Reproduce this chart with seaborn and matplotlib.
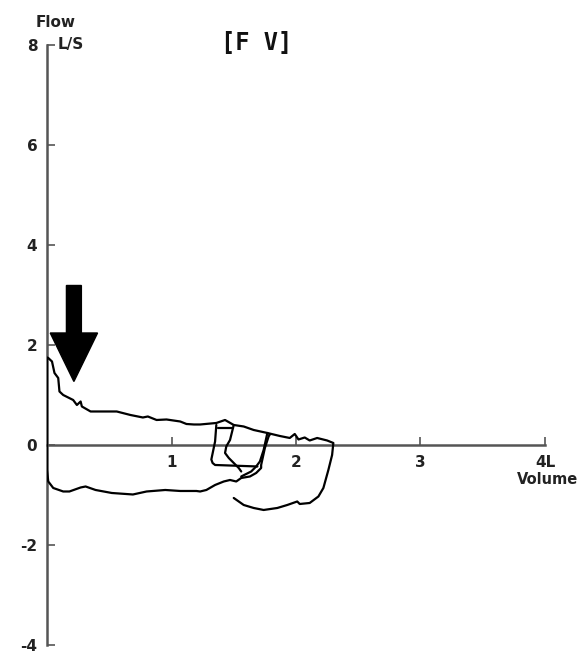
import matplotlib.pyplot as plt
import numpy as np
import seaborn as sns

# flow-volume loop, volume in L, flow in L/S
main_vol = [1.79, 1.78, 1.75, 1.72, 1.72, 1.68, 1.63, 1.56, 1.52, 1.47, 1.42, 1.35,
            1.28, 1.23, 1.20, 1.07, 0.95, 0.80, 0.69, 0.52, 0.39, 0.31, 0.27, 0.18,
            0.13, 0.05, 0.01, 0.00,
            0.00, 0.01, 0.04, 0.06, 0.09, 0.10, 0.13, 0.21, 0.24, 0.27, 0.28, 0.35,
            0.56, 0.67, 0.77, 0.81, 0.88, 0.96, 1.07, 1.12, 1.18, 1.23, 1.36, 1.43,
            1.50, 1.58, 1.66, 1.77, 1.87, 1.95, 1.99, 2.02, 2.07, 2.11, 2.17, 2.25,
            2.30,
            2.29, 2.26, 2.22, 2.18, 2.11, 2.03, 2.01, 1.93, 1.85, 1.74, 1.66, 1.58,
            1.50]
main_flow = [0.21, 0.17, -0.06, -0.40, -0.46, -0.56, -0.63, -0.66, -0.73, -0.70, -0.73, -0.80,
             -0.90, -0.93, -0.92, -0.92, -0.90, -0.93, -0.99, -0.96, -0.90, -0.83, -0.85, -0.93,
             -0.93, -0.86, -0.73, -0.50,
             1.75, 1.74, 1.67, 1.44, 1.34, 1.07, 1.00, 0.90, 0.80, 0.87, 0.77, 0.67,
             0.67, 0.60, 0.55, 0.57, 0.50, 0.51, 0.47, 0.42, 0.41, 0.41, 0.44, 0.50,
             0.40, 0.37, 0.30, 0.24, 0.18, 0.14, 0.22, 0.11, 0.15, 0.09, 0.14, 0.09,
             0.04,
             -0.20, -0.50, -0.86, -1.03, -1.16, -1.18, -1.13, -1.20, -1.26, -1.30, -1.26, -1.20,
             -1.06]

# small tidal loops near end-expiration
loop1_vol = [1.36, 1.35, 1.32, 1.33, 1.35, 1.69]
loop1_flow = [0.40, 0.07, -0.29, -0.36, -0.40, -0.43]
loop1_top_vol = [1.37, 1.49]
loop1_top_flow = [0.34, 0.34]
loop2_vol = [1.50, 1.47, 1.44, 1.43, 1.46, 1.50, 1.54, 1.56]
loop2_flow = [0.40, 0.10, -0.03, -0.16, -0.26, -0.36, -0.46, -0.53]
loop3_vol = [1.77, 1.74, 1.71, 1.68, 1.64, 1.56]
loop3_flow = [0.24, -0.10, -0.33, -0.43, -0.53, -0.63]

y_ticks = [8, 6, 4, 2, 0, -2, -4]
x_ticks = [1, 2, 3, 4]
x_tick_labels = ["1", "2", "3", "4L"]

sns.set_theme(style="white")
plt.rcParams["axes.unicode_minus"] = False
plt.rcParams["font.family"] = ["DejaVu Sans"]
plt.rcParams["xtick.direction"] = "in"
plt.rcParams["ytick.direction"] = "in"
plt.rcParams["xtick.bottom"] = True
plt.rcParams["ytick.left"] = True

fig = plt.figure(figsize=(5.84, 6.55), dpi=100)
ax = fig.add_axes([0.0805, 0.0153, 0.8527, 0.916])

axis_col = "#555555"
for side in ["top", "right"]:
    ax.spines[side].set_visible(False)
ax.spines["bottom"].set_position(("data", 0))
ax.spines["left"].set_position(("data", 0))
for side in ["bottom", "left"]:
    ax.spines[side].set_color(axis_col)
    ax.spines[side].set_linewidth(1.8)

segments = [(main_vol, main_flow), (loop1_vol, loop1_flow),
            (loop1_top_vol, loop1_top_flow), (loop2_vol, loop2_flow),
            (loop3_vol, loop3_flow)]
for xs, ys in segments:
    sns.lineplot(x=xs, y=ys, sort=False, estimator=None, color="black",
                 linewidth=1.6, ax=ax, zorder=3)

ax.set_xlim(0, 4)
ax.set_ylim(-4, 8)
ax.set_xlabel("")
ax.set_ylabel("")
ax.set_yticks(y_ticks)
ax.set_xticks(x_ticks)
ax.set_xticklabels(x_tick_labels)
ax.tick_params(axis="both", which="major", direction="in", length=6, width=1.2,
               color=axis_col, labelsize=11, pad=7, left=True, bottom=True)
for lbl in ax.get_xticklabels() + ax.get_yticklabels():
    lbl.set_fontweight("bold")
    lbl.set_color("#222222")

# big down arrow marking the early peak
tip_x, tip_y = 0.216, 1.27
head_w, head_h = 0.19, 0.97
shaft_w, shaft_top = 0.06, 3.19
arrow_x = np.array([tip_x, tip_x - head_w, tip_x - shaft_w, tip_x - shaft_w,
                    tip_x + shaft_w, tip_x + shaft_w, tip_x + head_w])
arrow_y = np.array([tip_y, tip_y + head_h, tip_y + head_h, shaft_top,
                    shaft_top, tip_y + head_h, tip_y + head_h])
ax.fill(arrow_x, arrow_y, color="black", zorder=4)

ax.annotate("L/S", xy=(0, 8), xytext=(8, 0), textcoords="offset points",
            ha="left", va="center", fontsize=11, fontweight="bold", color="#222222")
ax.annotate("Flow", xy=(0, 8), xytext=(6, 16), textcoords="offset points",
            ha="center", va="center", fontsize=11, fontweight="bold", color="#222222")
ax.annotate("Volume", xy=(4, 0), xytext=(2, -25), textcoords="offset points",
            ha="center", va="center", fontsize=10.5, fontweight="bold", color="#222222",
            annotation_clip=False)
ax.text(1.68, 8.03, "[F V]", ha="center", va="center", fontsize=17,
        fontweight="bold", family="DejaVu Sans Mono", color="#111111")

fig.savefig("out.png", dpi=100)
